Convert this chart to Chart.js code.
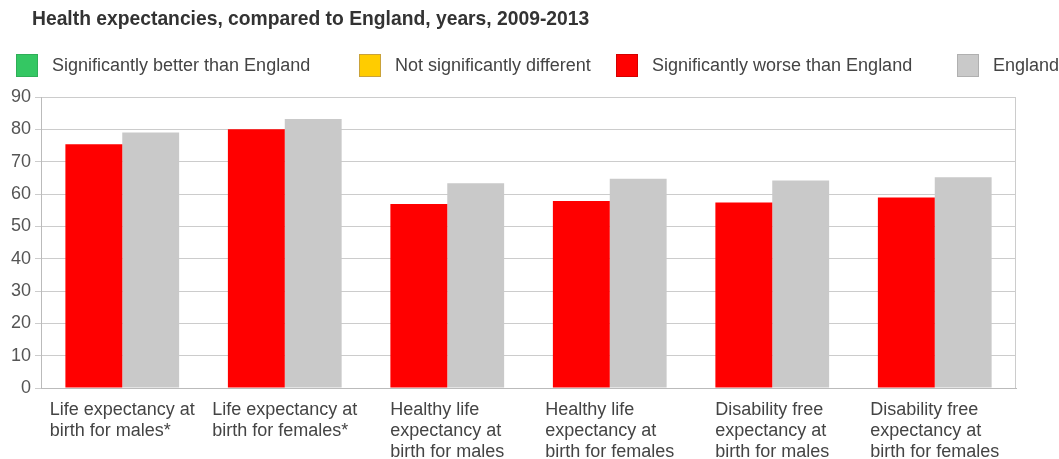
<!DOCTYPE html>
<html>
<head>
<meta charset="utf-8">
<script src="https://cdn.jsdelivr.net/npm/chart.js@4"></script>
<style>
  html, body { margin: 0; padding: 0; background: #fff; }
  #wrap { width: 1059px; height: 459px; position: relative; }
</style>
</head>
<body>
<div id="wrap"><canvas id="health-chart"></canvas></div>
<script>
const categories = [
    ['Life expectancy at', 'birth for males*'],
    ['Life expectancy at', 'birth for females*'],
    ['Healthy life', 'expectancy at', 'birth for males'],
    ['Healthy life', 'expectancy at', 'birth for females'],
    ['Disability free', 'expectancy at', 'birth for males'],
    ['Disability free', 'expectancy at', 'birth for females']
];
const areaValues = [75.4, 80.0, 56.9, 57.8, 57.4, 58.9];
const englandValues = [79.0, 83.2, 63.3, 64.7, 64.2, 65.2];
const yMin = 0, yMax = 90, yStep = 10;

const chartTitle = 'Health expectancies, compared to England, years, 2009-2013';
const legendLabels = ['Significantly better than England', 'Not significantly different', 'Significantly worse than England', 'England'];
const legendColors = ['#34c763', '#ffcc00', '#ff0000', '#c9c9c9'];
const legendBorders = ['#2fae58', '#c9a23a', '#d40000', '#b0b0b0'];

const FONT = "'Liberation Sans', Arial, sans-serif";

// title + legend drawn by hand so they sit where the original has them
const headerPlugin = {
    id: 'header',
    afterDraw(chart) {
        const ctx = chart.ctx;
        ctx.save();
        ctx.textBaseline = 'middle';
        ctx.textAlign = 'left';
        ctx.fillStyle = '#333';
        ctx.font = 'bold 19.3px ' + FONT;
        ctx.fillText(chartTitle, 32, 20);

        const boxX = [16, 359, 616, 957];
        ctx.font = '18px ' + FONT;
        legendLabels.forEach((label, i) => {
            ctx.fillStyle = legendColors[i];
            ctx.fillRect(boxX[i], 54, 22, 23);
            ctx.strokeStyle = legendBorders[i];
            ctx.lineWidth = 1;
            ctx.strokeRect(boxX[i] + 0.5, 54.5, 21, 22);
            ctx.fillStyle = '#444';
            ctx.fillText(label, boxX[i] + 36, 66);
        });
        ctx.restore();
    }
};

// x labels: each block centred under its bars, lines left-aligned
const xLabelPlugin = {
    id: 'xLabels',
    afterDraw(chart) {
        const ctx = chart.ctx;
        const xScale = chart.scales.x;
        const bottom = chart.chartArea.bottom;
        ctx.save();
        ctx.font = '18px ' + FONT;
        ctx.fillStyle = '#444';
        ctx.textAlign = 'left';
        ctx.textBaseline = 'middle';
        categories.forEach((lines, i) => {
            const w = Math.max(...lines.map(l => ctx.measureText(l).width));
            const x0 = xScale.getPixelForTick(i) - w / 2;
            lines.forEach((line, j) => {
                ctx.fillText(line, x0, bottom + 22 + j * 21);
            });
        });
        ctx.restore();
    }
};

new Chart(document.getElementById('health-chart'), {
    type: 'bar',
    data: {
        labels: categories,
        datasets: [
            {
                label: 'Area',
                data: areaValues,
                backgroundColor: '#ff0000',
                borderWidth: 0,
                barPercentage: 1,
                categoryPercentage: 0.7
            },
            {
                label: 'England',
                data: englandValues,
                backgroundColor: '#c9c9c9',
                borderWidth: 0,
                barPercentage: 1,
                categoryPercentage: 0.7
            }
        ]
    },
    options: {
        responsive: true,
        maintainAspectRatio: false,
        animation: false,
        layout: {
            padding: { top: 97, left: 7, right: 43, bottom: 0 }
        },
        plugins: {
            legend: { display: false },
            title: { display: false },
            tooltip: { enabled: false }
        },
        scales: {
            x: {
                grid: {
                    color: (c) => c.type === 'scale' ? '#cccccc' : 'rgba(0,0,0,0)',
                    drawTicks: false
                },
                border: { color: '#bbbbbb' },
                ticks: { display: false },
                afterFit(scale) { scale.height = 71; }
            },
            y: {
                min: yMin,
                max: yMax,
                ticks: {
                    stepSize: yStep,
                    color: '#555',
                    padding: 4,
                    font: { family: FONT, size: 18 }
                },
                grid: { color: '#cccccc', tickLength: 6 },
                border: { color: '#bbbbbb' }
            }
        }
    },
    plugins: [headerPlugin, xLabelPlugin]
});
</script>
</body>
</html>
